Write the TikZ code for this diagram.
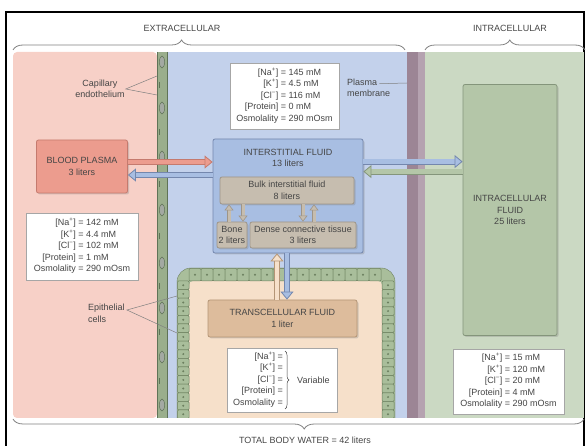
\documentclass[tikz,border=0pt]{standalone}
\usepackage{fontspec}
\setmainfont{Liberation Sans}
\usetikzlibrary{arrows.meta,shadows,decorations.pathreplacing}

\definecolor{txt}{HTML}{454545}
\definecolor{pinkbg}{HTML}{F7D0C7}
\definecolor{bluebg}{HTML}{C3D1EB}
\definecolor{greenbg}{HTML}{CBD9C3}
\definecolor{membdark}{HTML}{9C8595}
\definecolor{memblight}{HTML}{B5A2B0}
\definecolor{capwall}{HTML}{9AAE8C}
\definecolor{capline}{HTML}{5F7357}
\definecolor{nucleus}{HTML}{A3A9A2}
\definecolor{bpfill}{HTML}{EC9C8E}
\definecolor{bpline}{HTML}{C57A6E}
\definecolor{isffill}{HTML}{A8BEE2}
\definecolor{isfline}{HTML}{7487AD}
\definecolor{bulkfill}{HTML}{C6BDAF}
\definecolor{bulkline}{HTML}{9E9588}
\definecolor{icffill}{HTML}{B4C6A8}
\definecolor{icfline}{HTML}{84957B}
\definecolor{transbg}{HTML}{F6E0CA}
\definecolor{transfill}{HTML}{DDBC9C}
\definecolor{transline}{HTML}{B49576}
\definecolor{cellfill}{HTML}{A9BE9B}
\definecolor{cellline}{HTML}{6C805F}

\newcommand{\na}{{[Na\textsuperscript{+}]}}
\newcommand{\kk}{{[K\textsuperscript{+}]}}
\newcommand{\cl}{{[Cl\textsuperscript{−}]}}
\newcommand{\prot}{{[Protein]}}

\begin{document}
\begin{tikzpicture}[x=1pt, y=-1pt,
    font=\fontsize{9}{11.5}\selectfont, text=txt,
    box/.style={draw, rounded corners=2pt, line width=0.8pt, align=center, inner sep=0pt,
        drop shadow={shadow xshift=1.5pt, shadow yshift=-1.5pt, opacity=0.3}},
    ionbox/.style={draw=gray!70, fill=white, line width=0.8pt, inner sep=0pt, align=center},
    flow/.style 2 args={draw=#2, double=#1, double distance=4.5pt, line width=0.8pt,
        -{Triangle[length=8pt, width=13pt, fill=#1]}},
    subflow/.style={draw=bulkline, double=bulkfill, double distance=3pt, line width=0.6pt,
        -{Triangle[length=6pt, width=9pt, fill=bulkfill]}},
    cell/.style={draw=cellline, fill=cellfill, line width=0.5pt, rounded corners=1pt},
    tag/.style={inner sep=0pt},
    pointer/.style={draw=gray, line width=0.5pt},
    bracket/.style={draw=gray, line width=0.8pt, decorate}]
    \useasboundingbox (0,0) rectangle (587,446);
    \draw[line width=1.5pt] (6,12) rectangle (584,460);

    % compartments
    \fill[pinkbg, rounded corners=4pt] (13,52) rectangle (157,418);
    \fill[bluebg] (167,52) rectangle (407,418);
    \fill[membdark] (407,52) rectangle (418,418);
    \fill[memblight] (418,52) rectangle (425,418);
    \fill[greenbg] (425,52) rectangle (584,418);

    % capillary wall
    \fill[capwall] (157,52) rectangle (167,418);
    \draw[capline, line width=0.6pt] (157,52) -- (157,418) (167,52) -- (167,418);
    \foreach \y in {62,108,157,210,263,308,357,405}
        \draw[capline, fill=nucleus, line width=0.5pt] (162,\y) ellipse [x radius=2.6pt, y radius=6pt];
    \foreach \y in {85,132,184,236,286,332,381}
        \draw[capline, line width=0.6pt] (159.5,\y-3) -- (159.5,\y+3);

    % epithelium round the transcellular space
    \begin{scope}
        \clip (170,260) rectangle (400,418);
        \fill[cellfill, draw=cellline, rounded corners=14pt] (177,268) rectangle (395,440);
        \fill[transbg, rounded corners=4pt] (189,281) rectangle (382,440);
        \foreach \i in {0,...,15} {
            \draw[cell] (189+\i*12,268.5) rectangle ++(12,12.5);
            \fill[cellline] (195+\i*12,274.75) circle (1.2pt);
        }
        \foreach \j in {0,...,15} {
            \draw[cell] (177.5,281+\j*8.6) rectangle ++(11.5,8.6);
            \fill[cellline] (183.25,285.3+\j*8.6) circle (1.1pt);
            \draw[cell] (382,281+\j*8.6) rectangle ++(12,8.6);
            \fill[cellline] (388,285.3+\j*8.6) circle (1.1pt);
        }
    \end{scope}

    % fluid boxes
    \node[box, fill=bpfill, draw=bpline, minimum width=91pt, minimum height=53pt] (bp) at (82,166.5) {BLOOD PLASMA\\3 liters};
    \node[box, fill=isffill, draw=isfline, minimum width=150pt, minimum height=114pt] (isf) at (288,196) {};
    \node[tag, align=center] (isft) at (288,158) {INTERSTITIAL FLUID\\13 liters};
    \node[box, fill=bulkfill, draw=bulkline, minimum width=134pt, minimum height=27pt] (bulk) at (287,190.5) {Bulk interstitial fluid\\8 liters};
    \node[box, fill=bulkfill, draw=bulkline, minimum width=30pt, minimum height=26pt] (bone) at (232,235) {Bone\\2 liters};
    \node[box, fill=bulkfill, draw=bulkline, minimum width=106pt, minimum height=26pt] (dense) at (303,235) {Dense connective tissue\\3 liters};
    \node[box, fill=icffill, draw=icfline, minimum width=94pt, minimum height=251pt] (icf) at (510,210) {INTRACELLULAR\\FLUID\\25 liters};
    \node[box, fill=transfill, draw=transline, minimum width=149pt, minimum height=37pt] (trans) at (282.5,318.5) {TRANSCELLULAR FLUID\\1 liter};

    % ion contents
    \node[ionbox, minimum width=112pt, minimum height=67pt] (bpion) at (82,246.5) {\begin{tabular}{@{}r@{ = }l@{}}
        \na & 142 mM\\ \kk & 4.4 mM\\ \cl & 102 mM\\ \prot & 1 mM\\ Osmolality & 290 mOsm\end{tabular}};
    \node[ionbox, minimum width=109pt, minimum height=66pt] (isfion) at (284.5,96) {\begin{tabular}{@{}r@{ = }l@{}}
        \na & 145 mM\\ \kk & 4.5 mM\\ \cl & 116 mM\\ \prot & 0 mM\\ Osmolality & 290 mOsm\end{tabular}};
    \node[ionbox, minimum width=111pt, minimum height=65pt] (icfion) at (508.5,381.5) {\begin{tabular}{@{}r@{ = }l@{}}
        \na & 15 mM\\ \kk & 120 mM\\ \cl & 20 mM\\ \prot & 4 mM\\ Osmolality & 290 mOsm\end{tabular}};
    \node[ionbox, minimum width=110pt, minimum height=64pt] (trion) at (282,380) {};
    \node[tag, anchor=east] (trlist) at (283,380) {\begin{tabular}{@{}r@{}}
        \na{} =\\ \kk{} =\\ \cl{} =\\ \prot{} =\\ Osmolality =\end{tabular}};
    \node[tag, anchor=west] (trvar) at (297,380) {Variable};
    \draw[draw=txt, line width=0.5pt, decorate, decoration={brace, amplitude=4pt}]
        ([xshift=2pt]trlist.north east) -- ([xshift=2pt]trlist.south east);

    % exchanges
    \coordinate (bpA) at ([yshift=4.5pt]bp.east);
    \coordinate (bpB) at ([yshift=-8.5pt]bp.east);
    \draw[flow={bpfill}{bpline}] (bpA) -- (bpA -| isf.west);
    \draw[flow={isffill}{isfline}] (bpB -| isf.west) -- (bpB);
    \coordinate (isfA) at ([yshift=-23pt]isf.north east);
    \coordinate (isfB) at ([yshift=-33pt]isf.north east);
    \draw[flow={isffill}{isfline}] (isfA) -- (isfA -| icf.west);
    \draw[flow={icffill}{icfline}] (isfB -| icf.west) -- (isfB);
    \coordinate (trA) at ([xshift=-5.5pt]trans.north);
    \coordinate (trB) at ([xshift=4.5pt]trans.north);
    \draw[flow={transbg}{transline}] (trA) -- (trA |- isf.south);
    \draw[flow={isffill}{isfline}] (trB |- isf.south) -- (trB);
    \coordinate (bnA) at ([xshift=-3pt]bone.north);
    \coordinate (bnB) at ([xshift=11pt]bone.north);
    \coordinate (dnA) at (dense.north);
    \coordinate (dnB) at ([xshift=11pt]dense.north);
    \draw[subflow] (bnA) -- (bnA |- bulk.south);
    \draw[subflow] (bnB |- bulk.south) -- (bnB);
    \draw[subflow] (dnA |- bulk.south) -- (dnA);
    \draw[subflow] (dnB) -- (dnB |- bulk.south);

    % labels
    \node[tag, align=center] (capt) at (100,89) {Capillary\\endothelium};
    \coordinate (capw1) at (157,76);
    \coordinate (capw2) at (157,95);
    \draw[pointer] (capw1) -- ([xshift=1pt]capt.east) -- (capw2);
    \node[tag, align=left, anchor=west] (pm) at (347,88) {Plasma\\membrane};
    \coordinate (membA) at (407,83);
    \draw[pointer] ([xshift=-11pt,yshift=-5pt]pm.north east) -- (membA);
    \node[tag, align=left, anchor=north west] (epi) at (88,304) {Epithelial\\cells};
    \coordinate (epw1) at (177,296);
    \coordinate (epw2) at (177,333);
    \draw[pointer] (epw1) -- ([xshift=2pt,yshift=-6pt]epi.north east) -- (epw2);

    % totals
    \node (extra) at (182,28) {EXTRACELLULAR};
    \node (intra) at (510,28) {INTRACELLULAR};
    \node (total) at (305,440) {TOTAL BODY WATER = 42 liters};
    \draw[bracket, decoration={brace, amplitude=10pt, aspect=0.43}] (13,50) -- (405,50);
    \draw[bracket, decoration={brace, amplitude=10pt, aspect=0.53}] (425,50) -- (585,50);
    \draw[bracket, decoration={brace, amplitude=10pt, aspect=0.49}] (584,419) -- (13,419);
\end{tikzpicture}
\end{document}
